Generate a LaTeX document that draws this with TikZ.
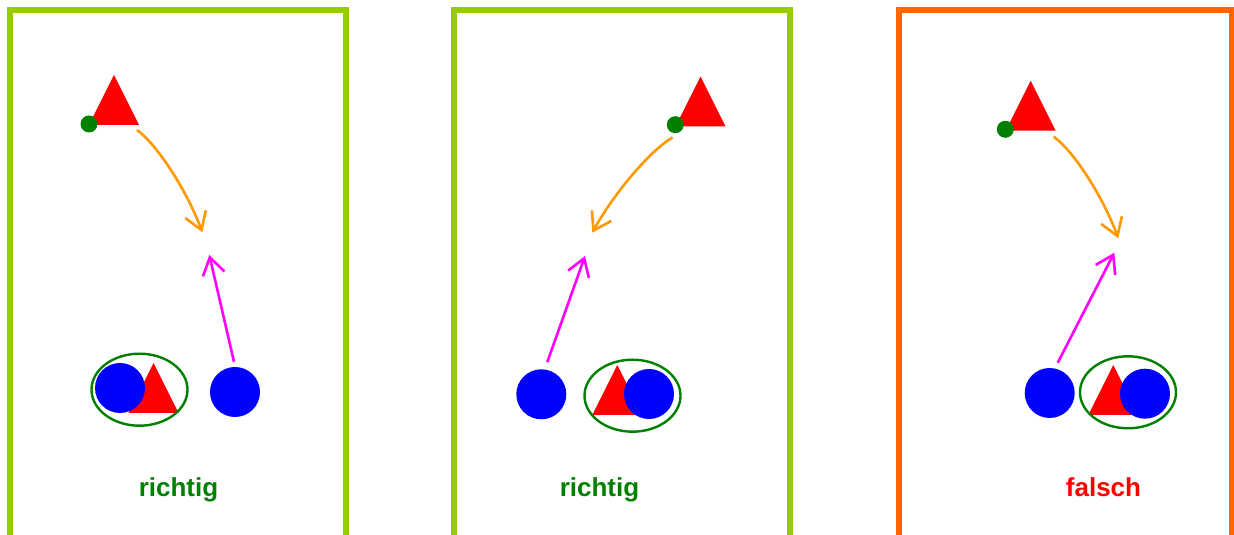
\documentclass[tikz,border=0pt]{standalone}
\usepackage{fontspec}
\newfontfamily\verdictfont{Liberation Sans}
\usetikzlibrary{shapes.geometric,arrows.meta}
\definecolor{okframe}{HTML}{99CC00}
\definecolor{badframe}{HTML}{FF6600}
\definecolor{darkgreen}{HTML}{008000}
\definecolor{passorange}{HTML}{FF9900}
\definecolor{runpink}{HTML}{FF00FF}

\begin{document}
\begin{tikzpicture}[
  x=1pt, y=1pt,
  frameok/.style={draw=okframe, line width=6pt},
  framebad/.style={draw=badframe, line width=6pt},
  cone/.style={isosceles triangle, isosceles triangle stretches, shape border rotate=90, fill=red, minimum width=50pt, minimum height=50pt, inner sep=0pt, outer sep=0pt},
  player/.style={circle, fill=blue, minimum size=50pt, inner sep=0pt},
  ball/.style={circle, fill=darkgreen, minimum size=17pt, inner sep=0pt},
  pair/.style={ellipse, draw=darkgreen, line width=2.4pt, minimum width=96pt, minimum height=72pt, inner sep=0pt},
  passarrow/.style={-{Straight Barb[length=17pt,width=22pt]}, line width=2.6pt, draw=passorange},
  runarrow/.style={-{Straight Barb[length=17pt,width=22pt]}, line width=2.6pt, draw=runpink},
  verdict/.style={font=\verdictfont\bfseries\fontsize{26}{30}\selectfont, anchor=base}
]
  \useasboundingbox (0,0) rectangle (1234,535);
  \clip (0,0) rectangle (1234,535);

  % panel 1
  \draw[frameok] (10,-30) rectangle (346,525);
  \node[cone, anchor=left corner] (cone1) at (89,410) {};
  \node[ball] (ball1) at (89,411) {};
  \node[cone, anchor=apex] (cone1b) at (153.5,172) {};
  \node[player] (pl1b) at (120,147) {};
  \node[pair] (pair1) at (139.5,145.3) {};
  \node[player] (pl1a) at (235,143) {};
  \coordinate (end1) at (202.3,302.7);
  \coordinate (meet1) at (209.3,280);
  \draw[passarrow] ([xshift=-2pt,yshift=-5pt]cone1.right corner) .. controls +(20,-14.5) and +(-15.7,42.3) .. (end1);
  \draw[runarrow] ([xshift=-1pt,yshift=5pt]pl1a.north) -- (meet1);
  \node[verdict, text=darkgreen] (v1) at (178.5,38) {richtig};

  % panel 2
  \draw[frameok] (454,-30) rectangle (790,525);
  \node[cone, anchor=left corner] (cone2) at (675.5,408.5) {};
  \node[ball] (ball2) at (675.3,410.3) {};
  \node[cone, anchor=apex] (cone2b) at (617.3,170) {};
  \node[player] (pl2b) at (649,141) {};
  \node[pair] (pair2) at (632.5,139.3) {};
  \node[player] (pl2a) at (541.3,140.7) {};
  \coordinate (end2) at (592.3,302.3);
  \coordinate (meet2) at (585,279);
  \draw[passarrow] ([xshift=-3pt,yshift=-11pt]cone2.left corner) .. controls +(-21.7,-12.5) and +(21.6,39.6) .. (end2);
  \draw[runarrow] ([xshift=6pt,yshift=7pt]pl2a.north) -- (meet2);
  \node[verdict, text=darkgreen] (v2) at (599.5,38) {richtig};

  % panel 3
  \draw[framebad] (899,-30) rectangle (1232,525);
  \node[cone, anchor=left corner] (cone3) at (1005.7,404.3) {};
  \node[ball] (ball3) at (1005.3,405.7) {};
  \node[cone, anchor=apex] (cone3b) at (1113.3,170) {};
  \node[player] (pl3b) at (1145,141.3) {};
  \node[pair] (pair3) at (1128,142.7) {};
  \node[player] (pl3a) at (1049.7,142) {};
  \coordinate (end3) at (1118.3,296.7);
  \coordinate (meet3) at (1114.3,282.3);
  \draw[passarrow] ([xshift=-2pt,yshift=-6pt]cone3.right corner) .. controls +(20,-14.5) and +(-15.7,42.3) .. (end3);
  \draw[runarrow] ([xshift=8pt,yshift=5pt]pl3a.north) -- (meet3);
  \node[verdict, text=red] (v3) at (1103.5,38) {falsch};
\end{tikzpicture}
\end{document}
